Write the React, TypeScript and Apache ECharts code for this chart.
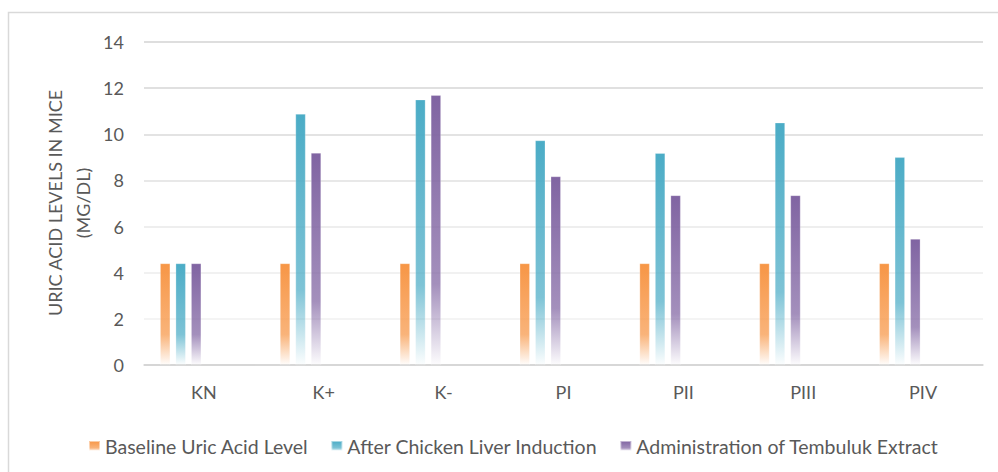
import React, { useEffect, useRef } from "react";
import * as echarts from "echarts";

const categories = ["KN", "K+", "K-", "PI", "PII", "PIII", "PIV"];
const baseline = [4.4, 4.4, 4.4, 4.4, 4.4, 4.4, 4.4];
const afterInduction = [4.4, 10.88, 11.5, 9.73, 9.18, 10.5, 9.0];
const afterExtract = [4.4, 9.19, 11.69, 8.17, 7.35, 7.35, 5.46];
const seriesNames = [
  "Baseline Uric Acid Level",
  "After Chicken Liver Induction",
  "Administration of Tembuluk Extract",
];
const yTicks = { min: 0, max: 14, interval: 2 };

const FONT = "Lato, 'Open Sans', sans-serif";
const TXT = "#595959";

function grad(r: number, g: number, b: number) {
  return new echarts.graphic.LinearGradient(0, 0, 0, 1, [
    { offset: 0, color: `rgba(${r},${g},${b},1)` },
    { offset: 0.7, color: `rgba(${r},${g},${b},0.72)` },
    { offset: 1, color: `rgba(${r},${g},${b},0.02)` },
  ]);
}

export default function App() {
  const ref = useRef<HTMLDivElement>(null);
  useEffect(() => {
    if (!ref.current) return;
    const chart = echarts.init(ref.current, undefined, { renderer: "svg" });
    const colors = [grad(247, 150, 70), grad(75, 172, 198), grad(128, 100, 162)];
    const datasets = [baseline, afterInduction, afterExtract];
    const empty = categories.map(() => null);
    const series: any[] = datasets.map((d, i) => ({
      name: seriesNames[i],
      type: "bar",
      data: d,
      barWidth: 10,
      barGap: "55%",
      itemStyle: { color: colors[i], borderColor: "rgba(255,255,255,0.5)", borderWidth: 0.5 },
    }));
    for (let k = 0; k < 3; k++) {
      series.push({ name: "_e" + k, type: "bar", data: empty, barWidth: 10, barGap: "55%" });
    }
    chart.setOption({
      animation: false,
      grid: { left: 144, right: 15, top: 42, bottom: 107, containLabel: false },
      legend: {
        data: seriesNames,
        left: 83,
        top: 431,
        itemWidth: 11,
        itemHeight: 10,
        itemGap: 22,
        icon: "rect",
        textStyle: { color: TXT, fontSize: 19.5, fontFamily: FONT },
      },
      graphic: [
        {
          type: "rect",
          silent: true,
          shape: { x: 8.5, y: 12.5, width: 1200, height: 1000 },
          style: { fill: "none", stroke: "#d9d9d9", lineWidth: 1.5 },
        },
        {
          type: "text",
          x: 55,
          y: 203,
          rotation: Math.PI / 2,
          style: {
            text: "URIC ACID LEVELS IN MICE",
            fill: TXT,
            font: `18px ${FONT}`,
            align: "center",
            verticalAlign: "middle",
          },
        },
        {
          type: "text",
          x: 83,
          y: 203,
          rotation: Math.PI / 2,
          style: {
            text: "(MG/DL)",
            fill: TXT,
            font: `18px ${FONT}`,
            align: "center",
            verticalAlign: "middle",
          },
        },
      ],
      xAxis: {
        type: "category",
        data: categories,
        axisLine: { lineStyle: { color: "#d4d4d4", width: 1.5 } },
        axisTick: { show: false },
        axisLabel: { color: TXT, fontSize: 18, fontFamily: FONT, margin: 18 },
      },
      yAxis: {
        type: "value",
        min: yTicks.min,
        max: yTicks.max,
        interval: yTicks.interval,
        axisLine: { show: false },
        axisTick: { show: false },
        axisLabel: { color: TXT, fontSize: 18, fontFamily: FONT, margin: 20 },
        splitLine: {
          lineStyle: {
            color: ["#d4d4d4", "#f0f0f0", "#ededed", "#e8e8e8", "#e0e0e0", "#dadada", "#d6d6d6", "#d3d3d3"],
            width: 1.5,
          },
        },
      },
      series,
    });
    return () => chart.dispose();
  }, []);
  return (
    <div
      ref={ref}
      style={{ position: "absolute", left: 0, top: 0, width: 998, height: 472, background: "#fff" }}
    />
  );
}
